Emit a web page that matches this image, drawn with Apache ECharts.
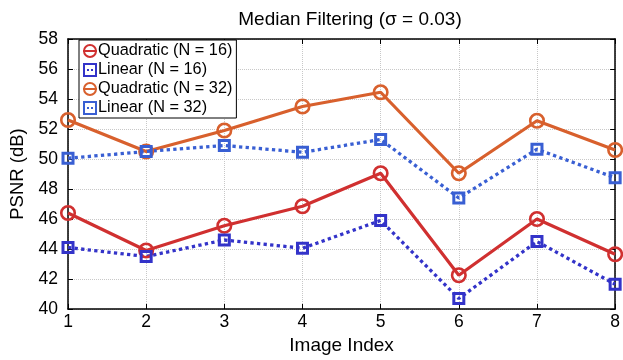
<!DOCTYPE html>
<html>
<head>
<meta charset="utf-8">
<script src="https://cdn.jsdelivr.net/npm/echarts@6/dist/echarts.min.js"></script>
<style>
  html, body { margin: 0; padding: 0; background: #fff; overflow: hidden; }
  #chart { width: 623px; height: 360px; }
</style>
</head>
<body>
<div id="chart"></div>
<script>
// Image indices along the x axis
const imageIndex = ['1', '2', '3', '4', '5', '6', '7', '8'];

// PSNR (dB) per image for each interpolation scheme
const quadN16 = [46.4, 43.9, 45.55, 46.85, 49.05, 42.25, 46.0, 43.65];
const linN16  = [44.1, 43.5, 44.6, 44.05, 45.9, 40.7, 44.5, 41.65];
const quadN32 = [52.6, 50.5, 51.9, 53.5, 54.45, 49.05, 52.55, 50.6];
const linN32  = [50.05, 50.5, 50.9, 50.45, 51.3, 47.4, 50.65, 48.75];

const yTicks = { min: 40, max: 58, step: 2 };

const FONT = '"Liberation Sans", Arial, Helvetica, sans-serif';
const RED = '#d03030';
const ORANGE = '#d8602d';
const BLUE_DARK = '#3333c9';
const BLUE_LIGHT = '#395fd3';

function lineSeries(name, data, color, symbol, size, dashed) {
  return {
    name: name,
    type: 'line',
    data: data,
    symbol: symbol,
    symbolSize: size,
    showAllSymbol: true,
    z: 2,
    lineStyle: { color: color, width: dashed ? 3.3 : 3.2, type: dashed ? 'dotted' : 'solid' },
    itemStyle: { color: 'rgba(255,255,255,0)', borderColor: color, borderWidth: symbol === 'rect' ? 3 : 2.6 },
    emphasis: { disabled: true },
    animation: false
  };
}

const chart = echarts.init(document.getElementById('chart'), null, { renderer: 'canvas', width: 623, height: 360 });

const gridLine = { show: true, lineStyle: { color: '#c8c8c8', type: 'dotted', width: 1 } };
const axisLine = { show: true, onZero: false, lineStyle: { color: '#000', width: 1.5 } };
const inTick = { show: true, inside: true, length: 5, lineStyle: { color: '#000', width: 1 } };

chart.setOption({
  backgroundColor: '#fff',
  animation: false,
  title: {
    text: 'Median Filtering (\u03c3 = 0.03)',
    left: 345, top: 5, textAlign: 'center',
    textStyle: { fontFamily: FONT, fontSize: 19, fontWeight: 'normal', color: '#000' }
  },
  grid: { left: 68, right: 5, top: 39, bottom: 50, containLabel: false },
  legend: {
    orient: 'vertical',
    left: 79, top: 40,
    padding: [3, 4, 2, 3],
    itemGap: 3,
    itemWidth: 14, itemHeight: 15,
    backgroundColor: '#fff',
    borderColor: '#000', borderWidth: 1,
    textStyle: { fontFamily: FONT, fontSize: 16.3, color: '#000', padding: [0, 0, 0, -4] },
    data: ['Quadratic (N = 16)', 'Linear (N = 16)', 'Quadratic (N = 32)', 'Linear (N = 32)']
  },
  xAxis: [{
    type: 'category', data: imageIndex, boundaryGap: false,
    name: 'Image Index', nameLocation: 'middle', nameGap: 27,
    nameTextStyle: { fontFamily: FONT, fontSize: 19, color: '#000' },
    axisLine: axisLine, axisTick: inTick, splitLine: gridLine,
    axisLabel: { fontFamily: FONT, fontSize: 17.5, color: '#000', margin: 4 }
  }, {
    type: 'category', data: imageIndex, boundaryGap: false, position: 'top',
    axisLine: axisLine, axisTick: inTick, axisLabel: { show: false }, splitLine: { show: false }
  }],
  yAxis: [{
    type: 'value', min: yTicks.min, max: yTicks.max, interval: yTicks.step,
    name: 'PSNR (dB)', nameLocation: 'middle', nameGap: 41,
    nameTextStyle: { fontFamily: FONT, fontSize: 18.5, color: '#000' },
    axisLine: axisLine, axisTick: inTick, splitLine: gridLine,
    axisLabel: { fontFamily: FONT, fontSize: 17.5, color: '#000', margin: 10 }
  }, {
    type: 'value', min: yTicks.min, max: yTicks.max, interval: yTicks.step, position: 'right',
    axisLine: axisLine, axisTick: inTick, axisLabel: { show: false }, splitLine: { show: false }
  }],
  series: [
    lineSeries('Quadratic (N = 16)', quadN16, RED, 'circle', 13.5, false),
    lineSeries('Linear (N = 16)', linN16, BLUE_DARK, 'rect', 10, true),
    lineSeries('Quadratic (N = 32)', quadN32, ORANGE, 'circle', 13.5, false),
    lineSeries('Linear (N = 32)', linN32, BLUE_LIGHT, 'rect', 10, true)
  ]
});
</script>
</body>
</html>
